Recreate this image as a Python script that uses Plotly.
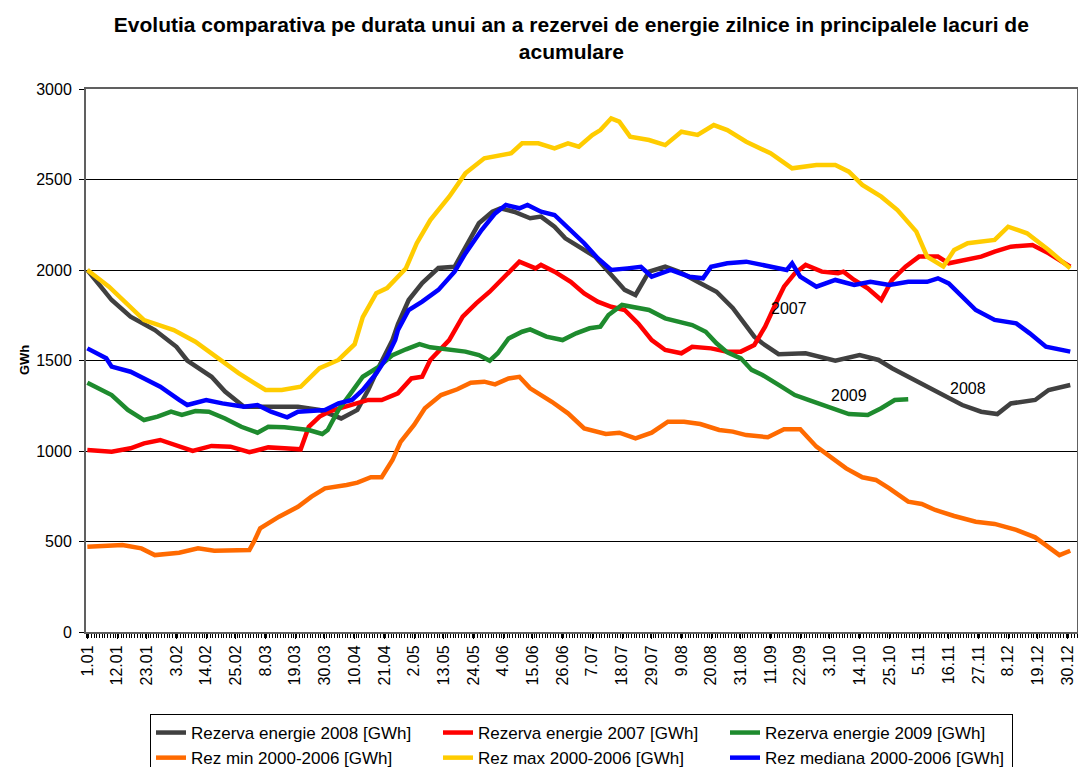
import plotly.graph_objects as go

# Tick labels (every 11 days, day index 0..363)
tick_days = [0, 11, 22, 33, 44, 55, 66, 77, 88, 99, 110, 121, 132, 143, 154, 165, 176,
             187, 198, 209, 220, 231, 242, 253, 264, 275, 286, 297, 308, 319, 330, 341, 352, 363]
tick_labels = ["1.01", "12.01", "23.01", "3.02", "14.02", "25.02", "8.03", "19.03", "30.03",
               "10.04", "21.04", "2.05", "13.05", "24.05", "4.06", "15.06", "26.06", "7.07",
               "18.07", "29.07", "9.08", "20.08", "31.08", "11.09", "22.09", "3.10", "14.10",
               "25.10", "5.11", "16.11", "27.11", "8.12", "19.12", "30.12"]

# Rezerva energie 2008
d2008 = [0, 9, 16, 25, 33, 37, 46, 51, 58, 68, 78, 86, 94, 100, 104, 108, 113, 115, 119, 124,
         130, 136, 140, 145, 150, 153, 158, 164, 168, 173, 177, 183, 188, 193, 199, 203, 208,
         214, 219, 226, 233, 239, 244, 247, 250, 256, 266, 277, 286, 293, 298, 305, 311, 318,
         324, 331, 337, 342, 351, 356, 364]
v2008 = [2000, 1834, 1742, 1668, 1576, 1500, 1410, 1328, 1245, 1245, 1245, 1227, 1180, 1227,
         1337, 1466, 1613, 1700, 1834, 1928, 2011, 2018, 2129, 2258, 2322, 2341, 2322, 2286,
         2295, 2239, 2175, 2120, 2074, 1991, 1890, 1862, 1991, 2018, 1991, 1935, 1880, 1790,
         1687, 1632, 1595, 1535, 1540, 1499, 1530, 1503, 1457, 1401, 1355, 1300, 1254, 1217,
         1204, 1263, 1282, 1337, 1365]

# Rezerva energie 2007
d2007 = [0, 9, 16, 21, 27, 34, 39, 46, 53, 60, 67, 73, 79, 82, 86, 90, 98, 104, 109, 115, 120,
         124, 127, 131, 134, 139, 144, 149, 152, 156, 160, 166, 168, 173, 179, 184, 189, 194,
         199, 204, 209, 214, 220, 224, 231, 237, 242, 247, 251, 255, 258, 262, 266, 272, 278,
         280, 284, 289, 294, 298, 303, 308, 315, 319, 324, 331, 336, 342, 350, 356, 364]
v2007 = [1005, 996, 1015, 1042, 1061, 1024, 1000, 1028, 1024, 993, 1020, 1015, 1009, 1134,
         1190, 1221, 1254, 1282, 1282, 1319, 1401, 1410, 1503, 1567, 1613, 1742, 1816, 1880,
         1926, 1991, 2046, 2009, 2028, 1991, 1935, 1871, 1825, 1797, 1779, 1705, 1613, 1558,
         1540, 1576, 1567, 1549, 1549, 1586, 1687, 1816, 1908, 1982, 2028, 1991, 1982, 1991,
         1945, 1899, 1834, 1945, 2018, 2074, 2074, 2037, 2055, 2074, 2101, 2129, 2138, 2092,
         2018]

# Rezerva energie 2009
d2009 = [0, 9, 15, 21, 26, 31, 35, 40, 45, 51, 57, 63, 67, 73, 82, 87, 89, 93, 98, 102, 108,
         113, 118, 123, 127, 134, 140, 145, 149, 152, 156, 161, 164, 170, 176, 181, 186, 190,
         193, 198, 201, 208, 214, 219, 224, 229, 233, 237, 242, 246, 250, 256, 262, 267, 274,
         282, 289, 294, 299, 304]
v2009 = [1377, 1309, 1227, 1171, 1190, 1217, 1199, 1221, 1217, 1180, 1134, 1101, 1134, 1131,
         1116, 1094, 1116, 1227, 1328, 1410, 1466, 1530, 1562, 1591, 1573, 1558, 1549, 1530,
         1499, 1540, 1622, 1659, 1672, 1632, 1613, 1650, 1678, 1687, 1751, 1807, 1797, 1779,
         1733, 1715, 1696, 1659, 1595, 1545, 1512, 1448, 1420, 1365, 1309, 1282, 1245, 1204,
         1199, 1236, 1282, 1286]

# Rez min 2000-2006
dmin = [0, 13, 20, 25, 34, 41, 47, 60, 62, 64, 71, 78, 83, 88, 96, 100, 105, 109, 113, 116,
        121, 125, 131, 137, 142, 147, 151, 156, 160, 164, 172, 178, 184, 192, 197, 200, 203,
        209, 215, 221, 227, 234, 239, 244, 252, 258, 264, 270, 274, 281, 287, 292, 297, 304,
        309, 314, 321, 329, 336, 344, 351, 356, 360, 364]
vmin = [471, 481, 462, 425, 438, 462, 449, 453, 508, 573, 637, 692, 748, 794, 812, 825, 855,
        855, 950, 1050, 1144, 1236, 1309, 1341, 1377, 1383, 1368, 1401, 1410, 1346, 1272, 1208,
        1125, 1094, 1101, 1088, 1070, 1101, 1162, 1162, 1149, 1116, 1107, 1088, 1076, 1120,
        1120, 1024, 978, 904, 855, 840, 794, 720, 707, 674, 641, 609, 597, 564, 523, 468, 425,
        449]

# Rez max 2000-2006
dmax = [0, 8, 21, 32, 40, 50, 56, 66, 72, 79, 86, 93, 99, 102, 107, 111, 118, 122, 127, 134,
        140, 147, 157, 161, 167, 173, 178, 182, 187, 190, 194, 197, 201, 208, 214, 220, 226,
        232, 237, 244, 253, 261, 270, 277, 282, 287, 294, 300, 307, 311, 317, 321, 326, 336,
        341, 348, 356, 364]
vmax = [2000, 1908, 1723, 1668, 1604, 1500, 1430, 1337, 1337, 1355, 1458, 1503, 1590, 1740,
        1872, 1900, 2010, 2148, 2276, 2405, 2534, 2617, 2645, 2700, 2700, 2672, 2700, 2681,
        2746, 2773, 2838, 2820, 2737, 2718, 2690, 2764, 2746, 2801, 2773, 2709, 2645, 2562,
        2580, 2580, 2543, 2470, 2405, 2331, 2212, 2074, 2019, 2110, 2148, 2166, 2239, 2203,
        2110, 2009]

# Rez mediana 2000-2006
dmed = [0, 7, 9, 16, 21, 27, 34, 37, 44, 50, 58, 63, 68, 74, 78, 83, 88, 93, 98, 102, 107, 111,
        114, 115, 119, 124, 130, 136, 140, 146, 151, 155, 160, 163, 168, 173, 179, 184, 189,
        194, 200, 205, 209, 216, 223, 228, 231, 237, 244, 253, 259, 261, 264, 270, 277, 284,
        290, 297, 304, 311, 315, 319, 324, 329, 336, 344, 349, 355, 364]
vmed = [1567, 1512, 1466, 1438, 1401, 1355, 1282, 1254, 1282, 1263, 1245, 1254, 1217, 1186,
        1217, 1223, 1227, 1263, 1282, 1337, 1429, 1521, 1613, 1668, 1779, 1825, 1890, 1991,
        2092, 2221, 2313, 2359, 2341, 2359, 2322, 2304, 2221, 2148, 2065, 2000, 2009, 2018,
        1963, 2000, 1963, 1954, 2018, 2037, 2046, 2018, 2000, 2037, 1963, 1908, 1945, 1917,
        1935, 1917, 1935, 1935, 1954, 1926, 1853, 1779, 1724, 1705, 1650, 1576, 1549]

series = [
    ("Rezerva energie 2008 [GWh]", d2008, v2008, "#404040"),
    ("Rezerva energie 2007 [GWh]", d2007, v2007, "#FF0000"),
    ("Rezerva energie 2009 [GWh]", d2009, v2009, "#1E8B2E"),
    ("Rez min 2000-2006 [GWh]", dmin, vmin, "#FF6A00"),
    ("Rez max 2000-2006 [GWh]", dmax, vmax, "#FFCC00"),
    ("Rez mediana 2000-2006 [GWh]", dmed, vmed, "#0000FF"),
]

FONT = "Arial, Liberation Sans, sans-serif"

fig = go.Figure()
for name, d, v, c in series:
    fig.add_trace(go.Scatter(x=d, y=v, mode="lines", name=name,
                             line=dict(color=c, width=4.5)))

labels = [("2007", 260, 1785), ("2009", 282, 1309), ("2008", 326, 1348)]
for t, x, y in labels:
    fig.add_annotation(x=x, y=y, text=t, showarrow=False,
                       font=dict(family=FONT, size=16, color="black"))

fig.add_annotation(xref="paper", yref="paper", x=-0.0716, y=0.5, text="<b>GWh</b>",
                   textangle=-90, showarrow=False,
                   font=dict(family=FONT, size=13, color="black"))

fig.update_layout(
    width=1078, height=767,
    margin=dict(l=86, r=1, t=89, b=135, autoexpand=False),
    paper_bgcolor="white", plot_bgcolor="white",
    font=dict(family=FONT, size=16, color="black"),
    title=dict(text="<b>Evolutia comparativa pe durata unui an a rezervei de energie zilnice in principalele lacuri de<br>acumulare</b>",
               x=0.53, xanchor="center", y=0.9588, yanchor="top",
               font=dict(family=FONT, size=21, color="black")),
    legend=dict(orientation="h", x=0.5, xanchor="center", y=-0.151, yanchor="top",
                entrywidth=242, bordercolor="black", borderwidth=1,
                font=dict(family=FONT, size=17), itemwidth=30),
    showlegend=True,
)

fig.update_xaxes(range=[-0.5, 366.5], tickmode="array", tickvals=tick_days,
                 ticktext=tick_labels, tickangle=-90, ticks="outside", ticklen=5,
                 tickcolor="black", showgrid=False, zeroline=False,
                 showline=True, linecolor="#606060", linewidth=2, mirror=True,
                 tickfont=dict(family=FONT, size=16),
                 minor=dict(tick0=0.5, dtick=1, ticks="outside", ticklen=4,
                            tickcolor="black", showgrid=False))
fig.update_yaxes(range=[0, 3000], dtick=500, ticks="outside", ticklen=5, tickcolor="black",
                 showgrid=True, gridcolor="black", gridwidth=1, zeroline=False,
                 showline=True, linecolor="#606060", linewidth=2, mirror=True,
                 ticklabelstandoff=4,
                 tickfont=dict(family=FONT, size=16))

# remove the default 8px page margin so the figure fills the window exactly
fig.write_html("out.html", config={"displayModeBar": False},
               post_script="document.body.style.margin='0';document.body.style.overflow='hidden';")
